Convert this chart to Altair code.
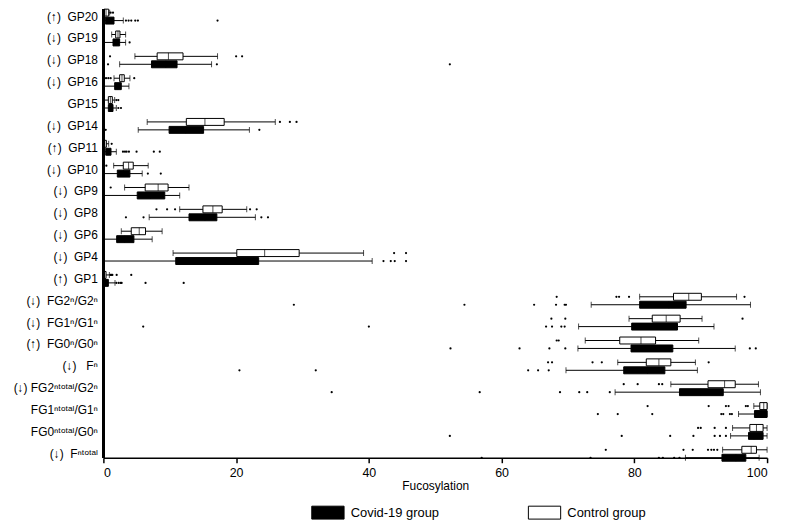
import altair as alt
import pandas as pd

cats = [
    "(↑)\u00a0\u00a0GP20", "(↓)\u00a0\u00a0GP19", "(↓)\u00a0\u00a0GP18", "(↓)\u00a0\u00a0GP16",
    "GP15", "(↓)\u00a0\u00a0GP14", "(↑)\u00a0\u00a0GP11", "(↓)\u00a0\u00a0GP10",
    "(↓)\u00a0\u00a0GP9", "(↓)\u00a0\u00a0GP8", "(↓)\u00a0\u00a0GP6", "(↓)\u00a0\u00a0GP4",
    "(↑)\u00a0\u00a0GP1", "(↓)\u00a0\u00a0FG2ⁿ/G2ⁿ", "(↓)\u00a0\u00a0FG1ⁿ/G1ⁿ", "(↑)\u00a0\u00a0FG0ⁿ/G0ⁿ",
    "(↓)\u00a0\u00a0\u00a0Fⁿ", "(↓) FG2ⁿᵗᵒᵗᵃˡ/G2ⁿ", "FG1ⁿᵗᵒᵗᵃˡ/G1ⁿ", "FG0ⁿᵗᵒᵗᵃˡ/G0ⁿ",
    "(↓)\u00a0\u00a0Fⁿᵗᵒᵗᵃˡ",
]

groups = ["Control group", "Covid-19 group"]

# Control group: whisker low, Q1, median, Q3, whisker high
ctrl_lo  = [0.0, 1.25, 4.75, 1.6, 0.1, 6.6, 0.0, 1.55, 3.2, 11.5, 2.7, 10.5, 0.0,
            80.8, 79.2, 72.6, 77.5, 85.5, 98.0, 94.8, 93.3]
ctrl_q1  = [0.1, 1.85, 8.1, 2.45, 0.75, 12.5, 0.05, 3.0, 6.3, 15.0, 4.2, 20.1, 0.05,
            85.9, 82.7, 77.8, 81.8, 91.1, 98.9, 97.4, 96.2]
ctrl_med = [0.4, 2.2, 9.8, 2.8, 1.05, 15.3, 0.2, 3.8, 8.25, 16.5, 5.4, 24.3, 0.15,
            88.2, 84.8, 81.0, 83.7, 93.6, 99.5, 98.4, 97.6]
ctrl_q3  = [0.8, 2.5, 12.0, 3.15, 1.35, 18.2, 0.45, 4.5, 9.75, 17.9, 6.35, 29.5, 0.4,
            90.1, 86.9, 83.2, 85.5, 95.2, 100.0, 99.4, 98.4]
ctrl_hi  = [0.95, 3.35, 17.2, 4.0, 1.7, 25.9, 0.8, 6.75, 12.9, 21.6, 8.85, 39.2, 0.9,
            95.4, 90.2, 89.7, 89.2, 98.7, 100.0, 100.0, 100.0]
ctrl_out = [
    [1.1, 1.45], [0.05], [1.0, 20.0, 20.9], [0.4, 0.75, 1.1, 4.65], [1.95, 2.25],
    [26.6, 28.1, 29.1], [1.25], [0.45], [1.1], [8.0, 9.6, 10.8, 22.1, 23.1], [],
    [43.8, 45.6], [1.05, 1.2, 1.35, 2.0, 4.2],
    [68.3, 77.3, 77.7, 79.2, 96.6], [67.5, 69.6, 96.3], [68.3, 68.6],
    [67.0, 67.6, 73.7, 75.1, 91.2], [78.4, 80.5, 83.7, 84.2],
    [82.0, 91.2, 93.8, 94.2, 96.8, 97.1], [89.6, 90.0, 92.1, 93.8],
    [75.7, 87.4, 88.8, 91.1, 91.6, 92.0, 92.5],
]

# Covid-19 group
cov_lo  = [0.0, 0.1, 2.45, 0.1, 0.1, 5.25, 0.0, 0.0, 0.0, 6.9, 0.0, 0.0, 0.0,
           73.5, 71.6, 71.5, 69.7, 77.1, 95.7, 94.5, 87.7]
cov_q1  = [0.3, 1.45, 7.25, 1.7, 0.75, 9.9, 0.35, 2.1, 5.1, 12.9, 2.0, 10.9, 0.05,
           80.8, 79.6, 79.5, 78.4, 86.8, 98.1, 97.2, 93.2]
cov_med = [0.9, 1.9, 9.4, 2.2, 1.1, 12.4, 0.7, 3.0, 7.1, 15.3, 3.2, 17.0, 0.35,
           85.2, 84.1, 83.3, 82.0, 90.0, 99.2, 98.0, 95.3]
cov_q3  = [1.6, 2.45, 11.1, 2.7, 1.45, 15.1, 1.15, 4.0, 9.25, 17.1, 4.6, 23.4, 0.75,
           87.8, 86.5, 85.8, 84.6, 93.4, 100.0, 99.4, 96.8]
cov_hi  = [3.0, 3.35, 16.3, 3.85, 1.95, 22.0, 1.95, 5.85, 11.5, 22.9, 7.35, 40.5, 1.75,
           97.5, 92.0, 95.2, 89.5, 99.0, 100.0, 100.0, 98.8]
cov_out = [
    [3.4, 3.8, 4.2, 4.8, 5.2, 17.2], [3.95], [0.7, 17.1, 52.2], [], [2.25, 2.65],
    [0.35, 23.5], [2.95, 3.25, 3.5, 3.85, 5.0, 7.6, 8.5], [6.7, 8.65], [],
    [0.0, 3.4, 6.05, 23.8, 24.8], [], [42.2, 43.3, 43.9, 45.6],
    [1.95, 2.3, 2.6, 2.75, 6.35, 12.1],
    [28.7, 54.4, 64.9, 68.2, 69.5, 69.7], [6.0, 40.0, 66.7, 67.6, 69.0, 69.5],
    [52.3, 62.7, 67.2, 69.6, 97.4, 98.3], [20.5, 32.0, 64.0, 65.5, 67.1],
    [34.4, 56.7, 68.8, 71.7, 72.9, 76.3],
    [74.5, 77.5, 82.7, 93.1, 93.4, 94.4, 94.7],
    [52.2, 78.1, 85.4, 88.9, 92.1, 92.9, 93.8],
    [57.0, 73.4, 83.7, 84.3, 86.0, 86.8],
]

stats_rows = []
out_rows = []
for grp, lo, q1, med, q3, hi, outs in [
    ("Control group", ctrl_lo, ctrl_q1, ctrl_med, ctrl_q3, ctrl_hi, ctrl_out),
    ("Covid-19 group", cov_lo, cov_q1, cov_med, cov_q3, cov_hi, cov_out),
]:
    for i, c in enumerate(cats):
        stats_rows.append(dict(cat=c, grp=grp, lo=lo[i], q1=q1[i], med=med[i], q3=q3[i], hi=hi[i]))
        for v in outs[i]:
            out_rows.append(dict(cat=c, grp=grp, val=v))

stats = pd.DataFrame(stats_rows)
outl = pd.DataFrame(out_rows)

y_enc = alt.Y("cat:N", sort=cats,
              scale=alt.Scale(domain=cats, range=[-4, 458], paddingInner=0, paddingOuter=0),
              axis=alt.Axis(title=None, ticks=False, domain=False, labelFontSize=12,
                            labelColor="black", labelPadding=6, labelLimit=250,
                            labelFont="Liberation Sans"))
yo_enc = alt.YOffset("grp:N",
                     scale=alt.Scale(domain=groups, range=[3, 19], paddingInner=0, paddingOuter=0))
x_scale = alt.Scale(domain=[0, 100], nice=False, zero=True)
x_axis = alt.Axis(values=[0, 20, 40, 60, 80, 100], grid=False, title="Fucosylation",
                  domainColor="black", domainWidth=1.5, tickColor="black", tickWidth=1.5,
                  tickSize=5, labelFontSize=12.5, labelColor="black", titleFontSize=12,
                  titleFontWeight="normal", titleColor="black", titlePadding=1,
                  labelFont="Liberation Sans", titleFont="Liberation Sans", labelPadding=4)

base = alt.Chart(stats)

whisk = base.mark_rule(color="black", strokeWidth=1).encode(
    y=y_enc, yOffset=yo_enc,
    x=alt.X("lo:Q", scale=x_scale, axis=x_axis), x2="hi:Q")

caps = base.transform_fold(["lo", "hi"], as_=["k", "v"]).mark_tick(
    color="black", thickness=1, size=6).encode(
    y=y_enc, yOffset=yo_enc, x=alt.X("v:Q", scale=x_scale))

box = base.mark_bar(size=7, stroke="black", strokeWidth=1).encode(
    y=y_enc, yOffset=yo_enc,
    x=alt.X("q1:Q", scale=x_scale), x2="q3:Q",
    fill=alt.Fill("grp:N",
                  scale=alt.Scale(domain=["Covid-19 group", "Control group"], range=["black", "white"]),
                  legend=alt.Legend(orient="none", legendX=219, legendY=499, direction="horizontal",
                                    title=None, symbolType="M-2.5,-1H2.5V1H-2.5Z", symbolSize=169,
                                    symbolStrokeColor="black", symbolStrokeWidth=1,
                                    symbolOpacity=1, labelFontSize=13, labelColor="black",
                                    labelFont="Liberation Sans", labelOffset=16,
                                    columnPadding=87, padding=0)))

med = base.mark_tick(color="black", thickness=1, size=7).encode(
    y=y_enc, yOffset=yo_enc, x=alt.X("med:Q", scale=x_scale))

pts = alt.Chart(outl).mark_circle(size=5, color="black", opacity=1).encode(
    y=y_enc, yOffset=yo_enc, x=alt.X("val:Q", scale=x_scale))

yline = alt.Chart(stats).mark_rule(color="black", strokeWidth=1.5).encode(x=alt.datum(0))

chart = alt.layer(whisk, caps, box, med, pts, yline).properties(
    width=668, height=451,
    autosize=alt.AutoSizeParams(type="none"),
    padding={"left": 96, "top": 0, "right": 12, "bottom": 61},
).configure_view(stroke=None)

chart.save("out.html", embed_options={"renderer": "svg", "actions": False})
